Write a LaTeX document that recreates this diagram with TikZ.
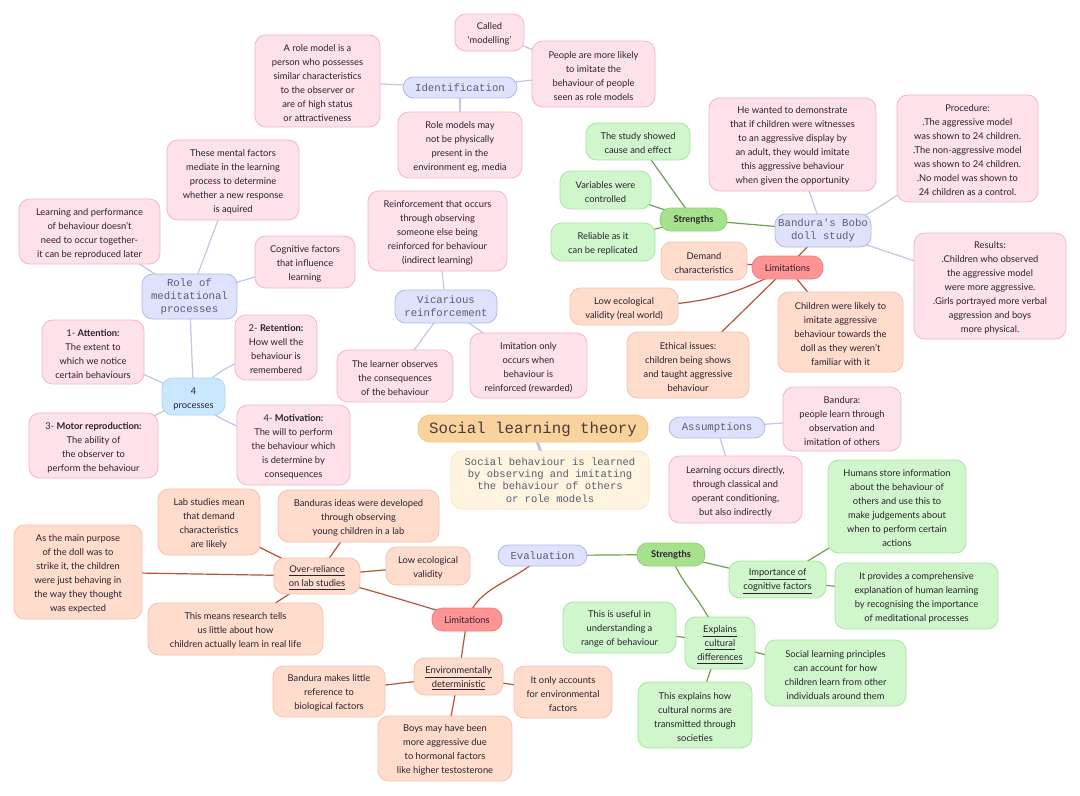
\documentclass[tikz,border=0pt]{standalone}
\usepackage{fontspec}
\setmainfont{Lato}
\setmonofont{Liberation Mono}
\usetikzlibrary{backgrounds}
\definecolor{inkc}{HTML}{2A2030}
\definecolor{monoc}{HTML}{5C5C74}
\definecolor{pinkf}{HTML}{FFE1E9}\definecolor{pinkd}{HTML}{F3B5CB}
\definecolor{lavf}{HTML}{DFE2FC}\definecolor{lavd}{HTML}{B2B6EC}
\definecolor{greenf}{HTML}{D0F6CC}\definecolor{greend}{HTML}{ACE3A4}
\definecolor{peachf}{HTML}{FFDCCB}\definecolor{peachd}{HTML}{F5C3AD}
\definecolor{dgreenf}{HTML}{A6E28C}\definecolor{dgreend}{HTML}{92D078}
\definecolor{redf}{HTML}{FF9494}\definecolor{redd}{HTML}{EE8080}
\definecolor{titlef}{HTML}{FAD39C}\definecolor{titled}{HTML}{F2C68A}
\definecolor{creamf}{HTML}{FFF4DF}\definecolor{creamd}{HTML}{F9E6C2}
\definecolor{skyf}{HTML}{C9E7FF}\definecolor{skyd}{HTML}{AAD6F5}
\definecolor{elav}{HTML}{C2C4EC}\definecolor{egreen}{HTML}{6F9F52}\definecolor{ered}{HTML}{B9523C}
\newcommand\topfix{}
\tikzset{
  base/.style={align=center,inner sep=0pt,line width=0.6pt,rounded corners=8pt,text=inkc,
    font=\fontsize{7}{10.5}\selectfont\def\topfix{\rule{0pt}{8pt}}},
  pinkbox/.style={base,fill=pinkf,draw=pinkd},
  greenbox/.style={base,fill=greenf,draw=greend},
  peachbox/.style={base,fill=peachf,draw=peachd},
  skybox/.style={base,fill=skyf,draw=skyd},
  lavbox/.style={base,fill=lavf,draw=lavd,text=monoc,font=\ttfamily\fontsize{8}{9.6}\selectfont\def\topfix{}},
  gpill/.style={base,fill=dgreenf,draw=dgreend,font=\fontsize{7}{10.5}\selectfont\def\topfix{\rule{0pt}{6.5pt}}},
  rpill/.style={base,fill=redf,draw=redd,font=\fontsize{7}{10.5}\selectfont\def\topfix{\rule{0pt}{6.5pt}}},
  titlebox/.style={base,fill=titlef,draw=titled,rounded corners=9pt,text=inkc!85!titlef,font=\ttfamily\fontsize{11.8}{13}\selectfont\def\topfix{\rule{0pt}{10pt}}},
  creambox/.style={base,fill=creamf,draw=creamd,text=monoc,font=\ttfamily\fontsize{7.9}{9.3}\selectfont\def\topfix{}},
  el/.style={draw=elav,line width=0.9pt},
  eg/.style={draw=egreen,line width=0.9pt},
  er/.style={draw=ered,line width=0.9pt}
}
\newcommand\bx[7]{\node[#1,minimum width={(#5-#3)*0.75pt},minimum height={(#6-#4)*0.75pt}] (#2) at ({(#3+#5)/2},{(#4+#6)/2}) {\topfix #7};}
\newcommand\ul[1]{\underline{#1}}
\begin{document}
\begin{tikzpicture}[x=0.75pt,y=-0.75pt]
\useasboundingbox (0,0) rectangle (1080,795);
\bx{pinkbox}{called}{455}{14}{524}{51}{Called\\`modelling'}
\bx{pinkbox}{people}{532}{41}{655}{107}{People are more likely\\to imitate the\\behaviour of people\\seen as role models}
\bx{pinkbox}{rolemodel}{255}{35}{380}{127}{A role model is a\\person who possesses\\similar characteristics\\to the observer or\\are of high status\\or attractiveness}
\bx{lavbox}{ident}{403}{77}{517}{98}{Identification}
\bx{pinkbox}{maynot}{398}{112}{522}{178}{Role models may\\not be physically\\present in the\\environment eg, media}
\bx{pinkbox}{mental}{167}{140}{299}{220}{These mental factors\\mediate in the learning\\process to determine\\whether a new response\\is aquired}
\bx{pinkbox}{perform}{19}{199}{160}{264}{Learning and performance\\of behaviour doesn't\\need to occur together-\\it can be reproduced later}
\bx{pinkbox}{cogn}{255}{236}{355}{288}{Cognitive factors\\that influence\\learning}
\bx{lavbox}{medit}{142}{274}{237}{319}{Role of\\meditational\\processes}
\bx{pinkbox}{reinf}{368}{191}{507}{271}{Reinforcement that occurs\\through observing\\someone else being\\reinforced for behaviour\\(indirect learning)}
\bx{lavbox}{vicar}{395}{290}{497}{323}{Vicarious\\reinforcement}
\bx{pinkbox}{learner}{337}{350}{453}{402}{The learner observes\\the consequences\\of the behaviour}
\bx{pinkbox}{imit}{470}{333}{587}{398}{Imitation only\\occurs when\\behaviour is\\reinforced (rewarded)}
\bx{pinkbox}{attn}{42}{320}{144}{384}{1- \textbf{Attention:}\\The extent to\\which we notice\\certain behaviours}
\bx{pinkbox}{reten}{235}{315}{317}{380}{2- \textbf{Retention:}\\How well the\\behaviour is\\remembered}
\bx{skybox}{four}{162}{378}{225}{415}{4\\processes}
\bx{pinkbox}{motor}{29}{413}{158}{478}{3- \textbf{Motor reproduction:}\\The ability of\\the observer to\\perform the behaviour}
\bx{pinkbox}{motiv}{237}{405}{350}{485}{4- \textbf{Motivation:}\\The will to perform\\the behaviour which\\is determine by\\consequences}
\bx{titlebox}{title}{418}{415}{648}{442}{Social learning theory}
\bx{creambox}{defn}{451}{451}{649}{509}{Social behaviour is learned\\by observing and imitating\\the behaviour of others\\or role models}
\bx{lavbox}{assum}{669}{417}{765}{438}{Assumptions}
\bx{pinkbox}{bandura}{783}{387}{901}{451}{Bandura:\\people learn through\\observation and\\imitation of others}
\bx{pinkbox}{occurs}{669}{456}{802}{523}{Learning occurs directly,\\through classical and\\operant conditioning,\\but also indirectly}
\bx{greenbox}{humans}{828}{460}{966}{553}{Humans store information\\about the behaviour of\\others and use this to\\make judgements about\\when to perform certain\\actions}
\bx{greenbox}{provides}{835}{563}{998}{629}{It provides a comprehensive\\explanation of human learning\\by recognising the importance\\of meditational processes}
\bx{greenbox}{import}{729}{561}{826}{598}{\ul{Importance of}\\\ul{cognitive factors}}
\bx{gpill}{strengthb}{637}{543}{705}{566}{\textbf{Strengths}}
\bx{lavbox}{eval}{498}{545}{587}{566}{Evaluation}
\bx{rpill}{limb}{432}{608}{502}{631}{Limitations}
\bx{greenbox}{explains}{685}{617}{755}{669}{\ul{Explains}\\\ul{cultural}\\\ul{differences}}
\bx{greenbox}{useful}{563}{602}{676}{653}{This is useful in\\understanding a\\range of behaviour}
\bx{greenbox}{princ}{765}{640}{906}{706}{Social learning principles\\can account for how\\children learn from other\\individuals around them}
\bx{greenbox}{norms}{638}{682}{752}{748}{This explains how\\cultural norms are\\transmitted through\\societies}
\bx{peachbox}{labst}{158}{489}{260}{555}{Lab studies mean\\that demand\\characteristics\\are likely}
\bx{peachbox}{ideas}{278}{490}{439}{542}{Banduras ideas were developed\\through observing\\young children in a lab}
\bx{peachbox}{loweb}{386}{547}{470}{585}{Low ecological\\validity}
\bx{peachbox}{over}{274}{558}{360}{594}{\ul{Over-reliance}\\\ul{on lab studies}}
\bx{peachbox}{purpose}{14}{525}{142}{619}{As the main purpose\\of the doll was to\\strike it, the children\\were just behaving in\\the way they thought\\was expected}
\bx{peachbox}{tells}{148}{603}{323}{655}{This means research tells\\us little about how\\children actually learn in real life}
\bx{peachbox}{envd}{414}{658}{503}{695}{\ul{Environmentally}\\\ul{deterministic}}
\bx{peachbox}{biol}{273}{666}{385}{717}{Bandura makes little\\reference to\\biological factors}
\bx{peachbox}{only}{514}{666}{612}{718}{It only accounts\\for environmental\\factors}
\bx{peachbox}{boys}{378}{716}{512}{781}{Boys may have been\\more aggressive due\\to hormonal factors\\like higher testosterone}
\bx{greenbox}{cause}{586}{123}{690}{160}{The study showed\\cause and effect}
\bx{greenbox}{vars}{560}{171}{651}{209}{Variables were\\controlled}
\bx{greenbox}{relia}{551}{223}{655}{261}{Reliable as it\\can be replicated}
\bx{gpill}{strengtht}{660}{208}{727}{231}{\textbf{Strengths}}
\bx{lavbox}{bobo}{775}{214}{871}{247}{Bandura's Bobo\\doll study}
\bx{rpill}{limt}{752}{256}{823}{279}{Limitations}
\bx{peachbox}{demand}{661}{242}{747}{280}{Demand\\characteristics}
\bx{peachbox}{lowt}{570}{288}{678}{325}{Low ecological\\validity (real world)}
\bx{peachbox}{likely}{778}{292}{903}{372}{Children were likely to\\imitate aggressive\\behaviour towards the\\doll as they weren't\\familiar with it}
\bx{peachbox}{ethic}{627}{332}{749}{398}{Ethical issues:\\children being shows\\and taught aggressive\\behaviour}
\bx{pinkbox}{wanted}{709}{98}{876}{191}{He wanted to demonstrate\\that if children were witnesses\\to an aggressive display by\\an adult, they would imitate\\this aggressive behaviour\\when given the opportunity}
\bx{pinkbox}{proced}{897}{95}{1038}{202}{Procedure:\\.The aggressive model\\was shown to 24 children.\\.The non-aggressive model\\was shown to 24 children.\\.No model was shown to\\24 children as a control.}
\bx{pinkbox}{results}{914}{233}{1066}{339}{Results:\\.Children who observed\\the aggressive model\\were more aggressive.\\.Girls portrayed more verbal\\aggression and boys\\more physical.}
\begin{pgfonlayer}{background}
\fill[white] (0,0) rectangle (1080,795);
\draw[el] (called.center) -- (people.center);
\draw[el] (ident.center) -- (people.center);
\draw[el] (ident.center) -- (rolemodel.center);
\draw[el] (ident.center) -- (maynot.center);
\draw[el] (medit.center) -- (mental.center);
\draw[el] (medit.center) -- (perform.center);
\draw[el] (medit.center) -- (cogn.center);
\draw[el] (medit.center) -- (four.center);
\draw[el] (four.center) -- (attn.center);
\draw[el] (four.center) -- (motor.center);
\draw[el] (four.center) .. controls (212,376) and (222,366) .. (reten.center);
\draw[el] (four.center) .. controls (205,410) and (222,425) .. (motiv.center);
\draw[el] (vicar.center) -- (reinf.center);
\draw[el] (vicar.center) -- (learner.center);
\draw[el] (vicar.center) -- (imit.center);
\draw[draw=elav,line width=2.4pt] (title.center) -- (defn.center);
\draw[el] (assum.center) -- (bandura.center);
\draw[el] (assum.center) -- (occurs.center);
\draw[el] (bobo.center) -- (wanted.center);
\draw[el] (bobo.center) .. controls (860,225) and (880,205) .. (proced.center);
\draw[el] (bobo.center) -- (results.center);
\draw[eg] (bobo.center) -- (strengtht.center);
\draw[eg] (strengtht.center) -- (cause.center);
\draw[eg] (strengtht.center) -- (vars.center);
\draw[eg] (strengtht.center) -- (relia.center);
\draw[er] (bobo.center) -- (limt.center);
\draw[er] (limt.center) -- (demand.center);
\draw[er] (limt.center) .. controls (735,295) and (705,305) .. (lowt.center);
\draw[er] (limt.center) -- (ethic.center);
\draw[er] (limt.center) -- (likely.center);
\draw[eg] (eval.center) -- (strengthb.center);
\draw[eg] (strengthb.center) -- (import.center);
\draw[eg] (strengthb.center) .. controls (680,585) and (705,600) .. (explains.center);
\draw[eg] (import.center) -- (humans.center);
\draw[eg] (import.center) -- (provides.center);
\draw[eg] (explains.center) -- (useful.center);
\draw[eg] (explains.center) -- (princ.center);
\draw[eg] (explains.center) -- (norms.center);
\draw[er] (eval.center) .. controls (510,585) and (480,585) .. (limb.center);
\draw[er] (limb.center) .. controls (420,605) and (370,590) .. (over.center);
\draw[er] (limb.center) -- (envd.center);
\draw[er] (over.center) -- (labst.center);
\draw[er] (over.center) -- (ideas.center);
\draw[er] (over.center) -- (loweb.center);
\draw[er] (over.center) -- (purpose.center);
\draw[er] (over.center) -- (tells.center);
\draw[er] (envd.center) -- (biol.center);
\draw[er] (envd.center) -- (only.center);
\draw[er] (envd.center) -- (boys.center);
\end{pgfonlayer}
\end{tikzpicture}
\end{document}
